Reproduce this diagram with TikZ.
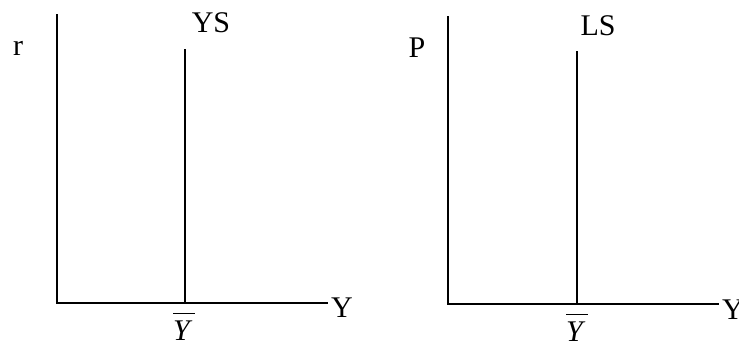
\documentclass[tikz,border=0pt]{standalone}
\usepackage{fontspec}
\setmainfont{Liberation Serif}
\usepackage{amsmath}
\usetikzlibrary{calc}

\begin{document}
\begin{tikzpicture}[
    x=1pt, y=1pt,
    axis/.style={line width=2.6pt, line cap=rect},
    supply/.style={line width=2.6pt},
    lbl/.style={inner sep=0pt, font=\fontsize{30}{32}\selectfont},
    barlbl/.style={inner sep=0pt, font=\fontsize{30}{32}\selectfont}
  ]
    \useasboundingbox (0,0) rectangle (739,348);

    % left panel: goods market
    \coordinate (oA) at (57,45);
    \coordinate (topA) at (57,333);
    \coordinate (endA) at (327,45);
    \coordinate (ysTop) at (185,299);
    \coordinate (ysBot) at (185,45);
    \draw[axis] (topA) -- (oA) -- (endA);
    \draw[supply] (ysBot) -- (ysTop);
    \node[lbl] (rA) at (18,300) {r};
    \node[lbl] (ysA) at (211,325) {YS};
    \node[lbl] (yA) at (342,40) {Y};
    \node[barlbl] (ybarA) at (184,22) {$\overline{\raisebox{0pt}[24pt]{\itshape Y\,}}$};

    % right panel: price level
    \coordinate (oB) at (448,44);
    \coordinate (topB) at (448,331);
    \coordinate (endB) at (718,44);
    \coordinate (lsTop) at (577,297);
    \coordinate (lsBot) at (577,44);
    \draw[axis] (topB) -- (oB) -- (endB);
    \draw[supply] (lsBot) -- (lsTop);
    \node[lbl] (pB) at (417,300) {P};
    \node[lbl] (lsB) at (598,322) {LS};
    \node[lbl] (yB) at (733,38) {Y};
    \node[barlbl] (ybarB) at (577,21) {$\overline{\raisebox{0pt}[24pt]{\itshape Y\,}}$};
  \end{tikzpicture}
\end{document}
